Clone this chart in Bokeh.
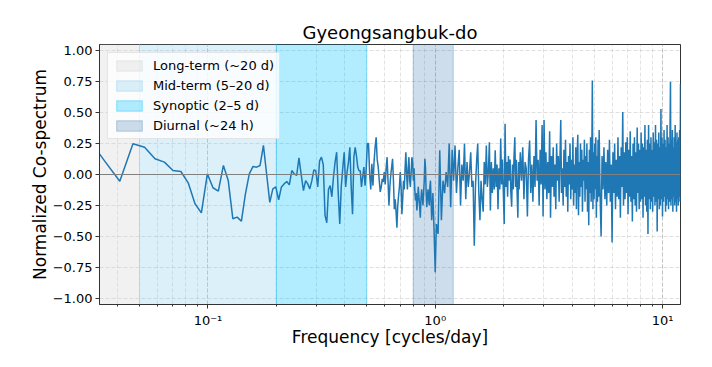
from bokeh.plotting import figure
from bokeh.models import Range1d, Span, Legend, LegendItem, CustomJSTickFormatter, FixedTicker
from bokeh.embed import file_html
from bokeh.resources import INLINE

# ---------------- data ----------------
record_days = 171  # frequency resolution 1/record_days cycles/day

k_seg_a = list(range(5, 172))          # every bin up to 1 cycle/day
k_seg_b = list(range(173, 399, 3))
k_seg_c = list(range(400, 900, 5))
k_seg_d = list(range(900, 2053, 9))

cosp_seg_a = [
    0.31, 0.11, -0.054, 0.248, 0.22, 0.127, 0.10, 0.032, 0.024, -0.067,
    -0.236, -0.31, 0.005, -0.107, -0.134, 0.073, -0.048, -0.357, -0.344, -0.377,
    -0.156, 0.005, 0.065, 0.059, 0.073, 0.235, 0.0, -0.225, -0.116, -0.10,
    -0.205, -0.10, -0.076, -0.057, -0.084, 0.032, 0.005, -0.008, 0.135, -0.003,
    -0.13, -0.049, -0.076, -0.116, -0.05, 0.038, 0.03, -0.10, 0.11, 0.14,
    0.08, -0.33, -0.39, -0.12, -0.09, -0.18, -0.02, 0.10, 0.18, -0.15,
    -0.40, -0.10, 0.05, 0.18, -0.10, 0.02, 0.10, 0.22, -0.10, -0.32,
    0.14, 0.22, 0.15, 0.06, 0.03, 0.03, -0.10, -0.02, 0.06, -0.09,
    0.05, 0.25, 0.25, 0.0, -0.12, 0.087, -0.09, 0.10, 0.22, 0.30,
    0.12, 0.06, -0.05, -0.14, -0.10, -0.035, -0.06, 0.02, -0.08, 0.05,
    0.14, -0.05, -0.25, -0.10, 0.0, 0.06, 0.127, -0.05, -0.28, -0.20,
    -0.30, -0.43, -0.25, -0.17, -0.10, 0.02, -0.10, -0.32, -0.20, -0.05,
    -0.12, 0.05, 0.18, 0.0, -0.12, 0.05, 0.14, -0.05, -0.10, 0.02,
    0.14, 0.10, -0.05, 0.05, -0.12, -0.21, -0.15, -0.29, -0.22, -0.10,
    -0.18, -0.25, -0.35, -0.20, -0.12, -0.18, -0.25, -0.15, -0.05, 0.127,
    0.05, -0.15, -0.265, -0.18, -0.12, -0.20, -0.25, -0.10, -0.05, -0.22,
    -0.37, -0.28, -0.15, -0.30, -0.45, -0.62, -0.79,
]
cosp_seg_b = [
    -0.40, -0.48, 0.195, -0.37, -0.05, -0.15, 0.02, -0.10, 0.25, -0.265,
    0.20, -0.05, 0.235, -0.15, 0.05, 0.20, -0.25, 0.08, -0.05, 0.25,
    -0.20, 0.10, -0.10, 0.02, 0.18, -0.10, -0.05, -0.575, -0.10, 0.10,
    0.25, -0.15, -0.37, -0.05, -0.20, -0.30, 0.10, -0.08, 0.235, -0.10,
    0.02, 0.26, -0.29, 0.10, -0.15, 0.05, -0.12, 0.195, -0.10, 0.08,
    -0.28, 0.05, -0.12, 0.29, -0.08, 0.12, -0.15, -0.40, 0.41, -0.10,
    0.10, -0.18, 0.15, -0.05, 0.12, -0.15, -0.26, 0.08, -0.12, 0.15,
    0.30, -0.10, 0.12, -0.15, -0.35, 0.10,
]
cosp_seg_c = [
    -0.12, 0.18, -0.05, 0.22, -0.20, 0.10, 0.05, -0.34, 0.12, 0.275,
    -0.15, 0.08, -0.22, 0.15, -0.10, 0.44, -0.05, 0.12, -0.25, 0.20,
    -0.08, 0.40, -0.34, 0.44, -0.12, 0.18, -0.20, 0.10, -0.15, 0.35,
    -0.35, 0.15, -0.10, 0.22, -0.18, 0.08, -0.28, 0.25, -0.05, 0.15,
    -0.22, 0.12, 0.44, -0.15, 0.05, -0.25, 0.20, -0.10, 0.28, -0.18,
    0.10, -0.30, 0.15, -0.08, 0.25, -0.20, 0.12, -0.12, 0.30, -0.25,
    0.08, -0.15, 0.22, -0.28, 0.15, 0.32, -0.33, 0.10, -0.18, 0.25,
    -0.10, 0.20, -0.30, 0.12, -0.05, 0.28, -0.22, 0.15, -0.12, 0.25,
    -0.30, 0.10, -0.41, 0.20, -0.15, 0.30, -0.22, 0.05, 0.76, -0.28,
    0.18, -0.20, 0.25, -0.12, 0.30, -0.35, 0.15, -0.22, 0.28, -0.18,
]
cosp_seg_d = [
    0.36, -0.18, -0.50, 0.15, -0.12, 0.22, -0.20, 0.10, -0.25, 0.20,
    -0.15, 0.28, -0.22, 0.08, -0.55, 0.18, -0.15, 0.25, -0.28, 0.12,
    -0.18, 0.30, -0.20, 0.15, -0.35, 0.22, -0.10, 0.505, -0.25, 0.18,
    -0.20, 0.26, -0.15, 0.30, -0.32, 0.20, -0.18, 0.35, -0.22, 0.15,
    -0.38, 0.25, -0.20, 0.30, -0.25, 0.18, -0.30, 0.38, -0.15, 0.25,
    -0.28, 0.20, -0.22, 0.34, -0.20, 0.25, -0.35, 0.22, -0.18, 0.40,
    -0.25, 0.20, -0.30, 0.28, -0.48, 0.40, -0.20, 0.25, -0.28, 0.30,
    -0.22, 0.20, -0.30, 0.34, -0.18, 0.26, -0.25, 0.40, -0.22, 0.28,
    -0.46, 0.25, -0.20, 0.34, -0.28, 0.22, -0.25, 0.53, -0.20, 0.30,
    -0.34, 0.25, -0.22, 0.36, -0.18, 0.28, -0.30, 0.22, -0.25, 0.40,
    -0.20, 0.30, -0.28, 0.25, -0.22, 0.34, 0.75, -0.25, 0.28, -0.20,
    0.36, -0.30, 0.22, -0.18, 0.30, -0.25, 0.40, -0.22, 0.26, -0.30,
    0.34, -0.20, 0.28, -0.25, 0.30, -0.18, 0.36, -0.22, 0.73,
]

band_labels = ["Long-term (~20 d)", "Mid-term (5\u201320 d)", "Synoptic (2\u20135 d)", "Diurnal (~24 h)"]
band_left = [0.03, 0.05, 0.2, 0.8]
band_right = [0.05, 0.2, 0.5, 1.2]
band_colors = ["lightgray", "skyblue", "deepskyblue", "steelblue"]
band_alphas = [0.32, 0.3, 0.3, 0.27]

y_ticks = [-1.0, -0.75, -0.5, -0.25, 0.0, 0.25, 0.5, 0.75, 1.0]
x_limits = [1 / 30, 12.0]
y_limits = [-1.05, 1.05]

# ---------------- build ----------------
k_all = k_seg_a + k_seg_b + k_seg_c + k_seg_d
freq = [k / record_days for k in k_all]
cosp = cosp_seg_a + cosp_seg_b + cosp_seg_c + cosp_seg_d

FONT = "DejaVu Sans"

p = figure(
    x_axis_type="log",
    frame_width=581, frame_height=260,
    min_border_left=99, min_border_right=30, min_border_top=44, min_border_bottom=60,
    x_range=Range1d(*x_limits), y_range=Range1d(*y_limits),
    output_backend="svg", toolbar_location=None,
    title="Gyeongsangbuk-do",
)
p.title.text_font = FONT
p.title.text_font_size = "18px"
p.title.text_font_style = "normal"
p.title.align = "center"
p.title.text_color = "black"
p.title.standoff = 4

legend_items = []
for lab, l, r, c, a in zip(band_labels, band_left, band_right, band_colors, band_alphas):
    rq = p.quad(left=[l], right=[r], bottom=[-2], top=[2], fill_color=c, fill_alpha=a,
                line_color=c, line_alpha=min(1.0, a + 0.1), line_width=1)
    legend_items.append(LegendItem(label=lab, renderers=[rq]))

p.line(freq, cosp, line_color="#1f77b4", line_width=1.5)
p.add_layout(Span(location=0, dimension="width", line_color="gray", line_width=1))

legend = Legend(items=legend_items, location="top_left")
legend.label_text_font = FONT
legend.label_text_font_size = "13px"
legend.label_text_color = "black"
legend.margin = 8
legend.padding = 5
legend.spacing = 5
legend.glyph_width = 32
legend.glyph_height = 13
legend.label_height = 15
legend.label_standoff = 8
legend.border_line_color = "#cccccc"
legend.border_line_width = 1
legend.background_fill_alpha = 0.8
p.add_layout(legend)

# axes
for ax in (p.xaxis, p.yaxis):
    ax.axis_label_text_font = FONT
    ax.axis_label_text_font_size = "17px"
    ax.axis_label_text_font_style = "normal"
    ax.axis_label_text_color = "black"
    ax.major_label_text_font = FONT
    ax.major_label_text_font_size = "13px"
    ax.major_label_text_color = "black"
    ax.major_tick_in = 0
    ax.minor_tick_in = 0
    ax.major_tick_out = 4
    ax.axis_line_color = "#333333"
    ax.major_tick_line_color = "#333333"
    ax.minor_tick_line_color = "#333333"

p.xaxis.axis_label = "Frequency [cycles/day]"
p.yaxis.axis_label = "Normalized Co-spectrum"
p.xaxis.minor_tick_out = 2
p.yaxis.minor_tick_out = 0
p.yaxis.ticker = FixedTicker(ticks=y_ticks)
p.yaxis.formatter = CustomJSTickFormatter(code="return tick.toFixed(2).replace('-', '\u2212');")
p.xaxis.formatter = CustomJSTickFormatter(code="""
const e = Math.round(Math.log10(tick));
const sup = {'-':'\u207b','0':'\u2070','1':'\u00b9','2':'\u00b2','3':'\u00b3'};
return '10' + String(e).split('').map(c => sup[c]).join('');
""")
p.xaxis.major_label_standoff = 4
p.yaxis.major_label_standoff = 3
p.xaxis.axis_label_standoff = -4
p.yaxis.axis_label_standoff = 0

p.xgrid.grid_line_color = "#b0b0b0"
p.xgrid.grid_line_alpha = 0.4
p.xgrid.grid_line_dash = "4 2"
p.xgrid.minor_grid_line_color = "#b0b0b0"
p.xgrid.minor_grid_line_alpha = 0.35
p.xgrid.minor_grid_line_dash = "4 2"
p.ygrid.grid_line_color = "#b0b0b0"
p.ygrid.grid_line_alpha = 0.4
p.ygrid.grid_line_dash = "4 2"

p.outline_line_color = "#333333"
p.outline_line_width = 1
p.background_fill_color = "white"

with open("out.html", "w", encoding="utf-8") as f:
    f.write(file_html(p, INLINE))
